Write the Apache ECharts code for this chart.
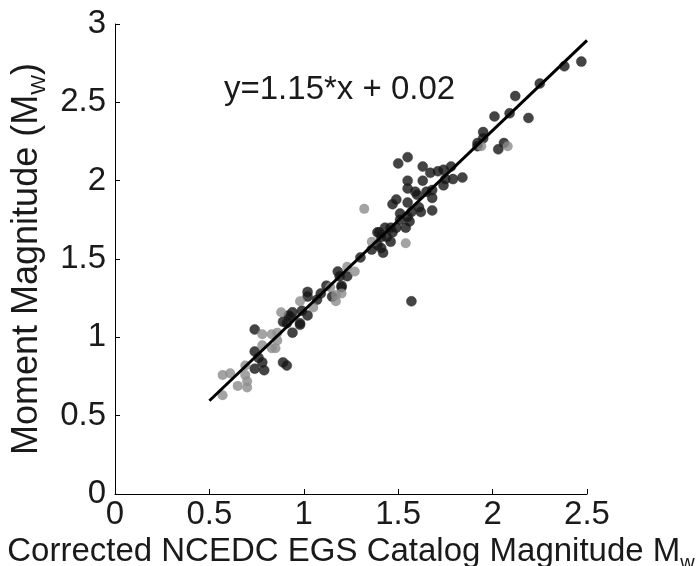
<!DOCTYPE html>
<html>
<head>
<meta charset="utf-8">
<script src="https://cdn.jsdelivr.net/npm/echarts@6/dist/echarts.min.js"></script>
<style>
html,body{margin:0;padding:0;background:#fff;}
#chart{width:699px;height:566px;}
</style>
</head>
<body>
<div id="chart"></div>
<script>
// Black markers: [catalog magnitude, moment magnitude]
var blackX = [2.47,2.38,2.25,2.12,2.09,2.01,2.19,1.95,1.95,1.92,2.03,2.06,1.92,
  1.50,1.55,1.63,1.67,1.71,1.74,1.78,1.55,1.63,1.75,1.79,1.84,1.55,1.59,1.68,1.74,1.65,
  1.68,1.60,1.49,1.47,1.55,1.61,1.68,1.57,1.51,1.55,1.62,1.51,1.56,1.54,1.49,1.46,1.43,
  1.47,1.40,1.41,1.39,1.39,1.41,1.42,1.30,1.57,1.18,1.19,1.23,1.20,1.15,1.09,1.07,1.02,
  1.02,0.94,0.99,0.93,0.91,0.98,1.02,0.92,0.89,0.98,0.94,0.74,0.74,0.76,0.78,0.79,0.74,
  0.89,0.91,1.12,1.20,1.36,1.44,1.46];
var blackY = [2.76,2.73,2.62,2.54,2.43,2.41,2.40,2.31,2.27,2.22,2.20,2.24,2.24,
  2.11,2.15,2.09,2.05,2.06,2.07,2.09,2.00,2.00,2.01,2.01,2.02,1.95,1.93,1.94,1.97,1.93,
  1.89,1.91,1.88,1.85,1.86,1.83,1.81,1.80,1.79,1.77,1.80,1.75,1.74,1.70,1.70,1.70,1.70,
  1.67,1.67,1.64,1.67,1.59,1.57,1.54,1.51,1.23,1.42,1.39,1.39,1.33,1.26,1.28,1.24,1.29,
  1.26,1.16,1.17,1.13,1.09,1.09,1.14,1.14,1.10,1.08,1.03,1.05,0.91,0.87,0.84,0.79,0.80,
  0.84,0.82,1.33,1.32,1.56,1.64,1.61];
// Gray markers
var grayX = [1.94,2.08,1.32,1.36,1.54,1.23,1.27,1.14,1.20,1.17,0.98,1.05,0.88,0.78,0.83,
  0.86,0.86,0.78,0.83,0.85,0.69,0.57,0.61,0.69,0.70,0.65,0.70,0.57,1.17];
var grayY = [2.22,2.22,1.82,1.61,1.60,1.45,1.42,1.32,1.28,1.23,1.23,1.19,1.16,1.02,1.02,
  1.03,0.98,0.95,0.93,0.93,0.82,0.76,0.77,0.76,0.72,0.69,0.68,0.63,1.27];
// Fitted line endpoints (y = 1.15*x + 0.02)
var fitX = [0.5, 2.5];
var fitY = [0.595, 2.895];
var xTicks = [0, 0.5, 1, 1.5, 2, 2.5];
var yTicks = [0, 0.5, 1, 1.5, 2, 2.5, 3];
var equationText = 'y=1.15*x + 0.02';

function zip(a, b) { return a.map(function (v, i) { return [v, b[i]]; }); }

var FONT = 'Liberation Sans, Arial, Helvetica, sans-serif';
var TXT = '#1a1a1a';
var chart = echarts.init(document.getElementById('chart'), null, {renderer: 'canvas'});
chart.setOption({
  animation: false,
  backgroundColor: '#ffffff',
  grid: {left: 115, top: 24, width: 472, height: 470, containLabel: false, outerBoundsMode: 'none'},
  xAxis: {
    type: 'value', min: xTicks[0], max: xTicks[xTicks.length - 1], interval: 0.5,
    axisLine: {show: true, onZero: false, lineStyle: {color: '#000', width: 1}},
    axisTick: {show: true, inside: true, length: 5, lineStyle: {color: '#000'}},
    splitLine: {show: false},
    axisLabel: {color: TXT, fontSize: 33, fontFamily: FONT, margin: 4, hideOverlap: false},
    name: '{a|Corrected NCEDC EGS Catalog Magnitude M}{s|w}',
    nameLocation: 'middle', nameGap: 25,
    nameTextStyle: {
      color: TXT, fontFamily: FONT,
      rich: {
        a: {fontSize: 33, fontFamily: FONT, color: TXT, lineHeight: 42, verticalAlign: 'middle'},
        s: {fontSize: 20, fontFamily: FONT, color: TXT, lineHeight: 42, verticalAlign: 'bottom'}
      }
    }
  },
  yAxis: {
    type: 'value', min: yTicks[0], max: yTicks[yTicks.length - 1], interval: 0.5,
    axisLine: {show: true, onZero: false, lineStyle: {color: '#000', width: 1}},
    axisTick: {show: true, inside: true, length: 5, lineStyle: {color: '#000'}},
    splitLine: {show: false},
    axisLabel: {color: TXT, fontSize: 33, fontFamily: FONT, margin: 9, hideOverlap: false},
    name: '{a|Moment Magnitude (M}{s|W}{a|)}',
    nameLocation: 'middle', nameGap: 59,
    nameTextStyle: {
      color: TXT, fontFamily: FONT,
      rich: {
        a: {fontSize: 36, fontFamily: FONT, color: TXT, lineHeight: 44, verticalAlign: 'middle'},
        s: {fontSize: 21, fontFamily: FONT, color: TXT, lineHeight: 44, verticalAlign: 'bottom'}
      }
    }
  },
  series: [
    {
      type: 'scatter', data: zip(blackX, blackY), symbol: 'circle', symbolSize: 10,
      itemStyle: {color: '#151515', borderColor: '#2a2a2a', borderWidth: 0.5}, z: 2
    },
    {
      type: 'scatter', data: zip(grayX, grayY), symbol: 'circle', symbolSize: 10,
      itemStyle: {color: '#8c8c8c'}, z: 3
    },
    {
      type: 'line', data: zip(fitX, fitY), symbol: 'none',
      lineStyle: {color: '#000', width: 3}, z: 4
    }
  ],
  graphic: [{
    type: 'text', left: 224, top: 73, z: 10,
    style: {text: equationText, fontSize: 33, fontFamily: FONT, fill: TXT}
  }]
});
</script>
</body>
</html>
